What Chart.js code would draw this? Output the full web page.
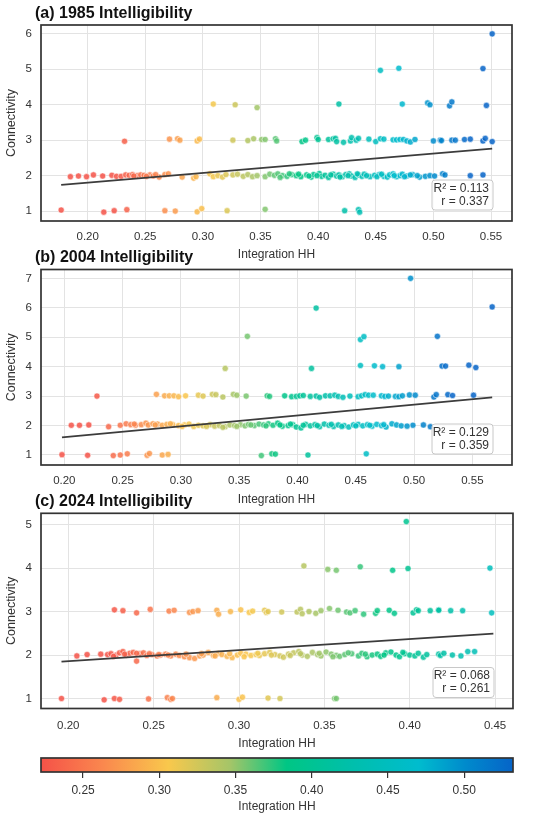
<!DOCTYPE html>
<html lang="en">
<head>
  <meta charset="UTF-8">
  <title>Integration HH vs Connectivity</title>
  <script src="https://cdn.jsdelivr.net/npm/chart.js@4.4.1/dist/chart.umd.min.js"></script>
  <style>
    body { margin: 0; background: #fff; }
    #wrap { position: relative; width: 550px; height: 820px; }
    #wrap canvas { position: absolute; left: 0; }
  </style>
</head>
<body>
<div id="wrap">
  <canvas id="chartA" width="550" height="262" style="top:0px"></canvas>
  <canvas id="chartB" width="550" height="262" style="top:245px"></canvas>
  <canvas id="chartC" width="550" height="262" style="top:489px"></canvas>
  <canvas id="colorbar" width="550" height="75" style="top:745px"></canvas>
</div>
<script>
// ---- data ----
// (a) 1985
const integA = [
  0.177, 0.214, 0.223, 0.234, 0.267, 0.276, 0.295, 0.299, 0.321, 0.354, 0.423, 0.435, 0.436,
  0.185, 0.192, 0.199, 0.205, 0.213, 0.221, 0.225, 0.229, 0.233, 0.236,
  0.239, 0.243, 0.246, 0.249, 0.254, 0.257, 0.262, 0.267, 0.270, 0.282,
  0.292, 0.294, 0.306, 0.309, 0.313, 0.317, 0.320, 0.326, 0.330, 0.335,
  0.339, 0.343, 0.347, 0.354, 0.358, 0.362, 0.365, 0.369, 0.373, 0.377,
  0.381, 0.385, 0.390, 0.394, 0.396, 0.401, 0.403, 0.406, 0.409, 0.413,
  0.416, 0.418, 0.421, 0.424, 0.427, 0.429, 0.432, 0.435, 0.438, 0.440,
  0.445, 0.449, 0.453, 0.457, 0.460, 0.462, 0.465, 0.468, 0.471, 0.473,
  0.477, 0.482, 0.488, 0.493, 0.497, 0.501, 0.508, 0.510, 0.532, 0.543,
  0.240, 0.251, 0.259, 0.367, 0.375, 0.383, 0.392, 0.399, 0.411, 0.419,
  0.426, 0.434, 0.442, 0.451, 0.455, 0.466, 0.475, 0.480, 0.486,
  0.232, 0.271, 0.278, 0.280, 0.295, 0.297, 0.326, 0.339, 0.344, 0.351,
  0.354, 0.363, 0.364, 0.386, 0.389, 0.399, 0.400, 0.409, 0.413, 0.415,
  0.416, 0.422, 0.428, 0.429, 0.433, 0.435, 0.444, 0.450, 0.454, 0.457,
  0.465, 0.468, 0.471, 0.474, 0.477, 0.480, 0.484, 0.500, 0.506, 0.507,
  0.516, 0.519, 0.527, 0.532, 0.543, 0.545, 0.551,
  0.309, 0.328, 0.347, 0.418, 0.473, 0.495, 0.497, 0.514, 0.516, 0.546,
  0.454, 0.470, 0.543, 0.551
];
const connA = [
  1.03, 0.97, 1.01, 1.04, 1.01, 1.00, 0.98, 1.07, 1.01, 1.05, 1.01, 1.04, 0.97,
  1.97, 1.99, 1.97, 2.02, 1.99, 2.01, 1.98, 1.98, 2.02, 2.01,
  2.03, 2.00, 2.02, 2.01, 2.02, 1.99, 1.96, 2.03, 2.05, 1.96,
  1.93, 1.97, 2.05, 1.97, 2.00, 1.96, 2.03, 2.02, 2.04, 1.98,
  2.03, 1.97, 2.00, 1.97, 2.04, 2.01, 2.05, 2.00, 1.98, 2.03,
  2.00, 1.97, 2.02, 1.96, 2.03, 2.06, 1.98, 2.01, 1.95, 2.04,
  1.99, 2.02, 1.97, 2.03, 2.05, 1.99, 1.95, 2.02, 1.98, 2.04,
  1.97, 2.01, 2.03, 1.98, 1.96, 2.02, 2.05, 1.97, 2.00, 2.04,
  1.99, 2.03, 1.96, 1.98, 2.00, 1.99, 2.05, 2.02, 2.00, 2.02,
  1.99, 1.98, 2.03, 1.95, 2.05, 2.04, 1.99, 2.00, 2.02, 1.96,
  2.00, 2.05, 2.00, 1.97, 2.04, 2.00, 1.97, 2.02, 2.00,
  2.97, 3.03, 3.04, 3.00, 2.98, 3.03, 3.00, 2.99, 3.04, 3.02,
  3.02, 3.04, 2.98, 2.96, 3.00, 3.07, 3.02, 3.02, 3.04, 3.05,
  2.96, 2.94, 2.98, 3.07, 3.00, 3.05, 3.03, 2.96, 3.04, 3.03,
  3.01, 3.01, 3.02, 3.02, 2.98, 2.95, 3.02, 2.98, 3.00, 2.99,
  3.00, 3.00, 3.02, 3.03, 2.98, 3.05, 2.96,
  4.02, 4.00, 3.92, 4.02, 4.02, 4.05, 4.00, 3.97, 4.08, 3.98,
  4.97, 5.03, 5.02, 6.00
];
const fitXA = [0.177, 0.551];
const fitYA = [1.74, 2.76];
const statsA = ['R\u00b2 = 0.113', 'r = 0.337'];

// (b) 2004
const integB = [
  0.198, 0.220, 0.242, 0.248, 0.254, 0.271, 0.273, 0.284, 0.289, 0.369, 0.378, 0.381, 0.409, 0.459,
  0.206, 0.213, 0.221, 0.238, 0.248, 0.253, 0.257, 0.261, 0.266, 0.270,
  0.272, 0.276, 0.280, 0.284, 0.288, 0.293, 0.298, 0.303, 0.307, 0.311,
  0.315, 0.319, 0.325, 0.329, 0.333, 0.338, 0.342, 0.346, 0.351, 0.355,
  0.358, 0.363, 0.367, 0.371, 0.375, 0.379, 0.383, 0.387, 0.392, 0.396,
  0.399, 0.403, 0.407, 0.411, 0.415, 0.419, 0.423, 0.427, 0.431, 0.435,
  0.440, 0.444, 0.448, 0.452, 0.456, 0.460, 0.464, 0.468, 0.472, 0.476,
  0.481, 0.485, 0.489, 0.499, 0.508, 0.514,
  0.260, 0.278, 0.291, 0.301, 0.322, 0.336, 0.348, 0.360, 0.373, 0.385,
  0.394, 0.405, 0.417, 0.429, 0.438, 0.450, 0.462, 0.474, 0.494,
  0.228, 0.279, 0.286, 0.290, 0.294, 0.298, 0.304, 0.315, 0.319, 0.327,
  0.330, 0.336, 0.345, 0.348, 0.356, 0.374, 0.376, 0.389, 0.395, 0.399,
  0.402, 0.405, 0.411, 0.416, 0.419, 0.424, 0.428, 0.432, 0.435, 0.439,
  0.445, 0.452, 0.455, 0.458, 0.461, 0.465, 0.472, 0.475, 0.478, 0.484,
  0.487, 0.490, 0.496, 0.501, 0.517, 0.519, 0.529, 0.533, 0.551,
  0.338, 0.412, 0.454, 0.466, 0.473, 0.487, 0.524, 0.527, 0.547, 0.553,
  0.357, 0.454, 0.457, 0.520, 0.416, 0.567, 0.497
];
const connB = [
  1.01, 0.99, 0.98, 1.00, 1.04, 0.99, 1.05, 1.00, 1.02, 0.98, 1.04, 1.03, 1.00, 1.04,
  2.01, 2.01, 2.02, 1.96, 2.01, 2.06, 2.03, 2.01, 2.03, 2.08,
  2.02, 2.06, 2.05, 2.01, 2.04, 2.03, 2.00, 2.02, 2.05, 1.97,
  2.01, 1.99, 2.03, 1.98, 2.00, 1.96, 2.02, 2.00, 2.03, 1.99,
  2.04, 2.00, 2.05, 2.02, 2.06, 2.01, 2.08, 1.98, 2.00, 2.03,
  1.95, 1.92, 2.04, 1.99, 2.03, 1.96, 2.05, 2.01, 1.97, 2.02,
  2.00, 1.95, 2.02, 2.04, 1.99, 2.03, 1.98, 2.04, 2.00, 1.95,
  2.06, 2.02, 1.99, 2.01, 2.02, 1.96,
  2.05, 2.02, 2.06, 1.97, 1.97, 1.94, 1.97, 2.02, 1.99, 2.02,
  2.05, 2.01, 2.00, 2.04, 1.97, 1.99, 2.01, 2.03, 1.98,
  3.00, 3.06, 3.01, 3.01, 3.01, 2.98, 3.01, 3.03, 3.00, 3.06,
  3.05, 2.97, 3.06, 3.03, 3.00, 3.01, 2.99, 3.01, 2.98, 2.99,
  3.01, 3.02, 2.99, 3.00, 2.96, 3.01, 3.01, 3.03, 2.99, 2.96,
  3.00, 2.98, 3.01, 3.05, 3.03, 3.03, 3.01, 2.99, 3.00, 2.99,
  2.98, 3.01, 3.04, 3.03, 2.97, 3.05, 3.05, 3.02, 3.03,
  3.94, 3.94, 4.04, 4.03, 4.00, 4.00, 4.02, 4.02, 4.05, 3.97,
  5.03, 4.92, 5.02, 5.03, 5.99, 6.03, 7.00
];
const fitXB = [0.198, 0.567];
const fitYB = [1.60, 2.96];
const statsB = ['R\u00b2 = 0.129', 'r = 0.359'];

// (c) 2024
const integC = [
  0.196, 0.221, 0.227, 0.230, 0.247, 0.258, 0.260, 0.261, 0.287, 0.300, 0.302, 0.317, 0.324, 0.356, 0.357,
  0.205, 0.211, 0.219, 0.223, 0.225, 0.228, 0.230, 0.232, 0.234, 0.236,
  0.238, 0.240, 0.242, 0.244, 0.246, 0.249, 0.252, 0.254, 0.257, 0.260,
  0.263, 0.265, 0.268, 0.271, 0.274, 0.277, 0.279, 0.282, 0.285, 0.288,
  0.290, 0.293, 0.296, 0.299, 0.301, 0.304, 0.307, 0.310, 0.312, 0.315,
  0.318, 0.321, 0.324, 0.326, 0.329, 0.332, 0.335, 0.337, 0.340, 0.343,
  0.346, 0.348, 0.351, 0.354, 0.357, 0.359, 0.362, 0.366, 0.370, 0.372,
  0.375, 0.378, 0.381, 0.383, 0.386, 0.389, 0.392, 0.394, 0.397, 0.400,
  0.403, 0.405, 0.408, 0.417, 0.418, 0.425, 0.430, 0.434, 0.438,
  0.2265, 0.2330, 0.2400, 0.2475, 0.2530, 0.2585, 0.2690, 0.2780, 0.2860, 0.2945,
  0.3030, 0.3110, 0.3190, 0.3300, 0.3360, 0.3470, 0.3550, 0.3640, 0.3740, 0.3850,
  0.3960, 0.4100, 0.4200,
  0.227, 0.232, 0.240, 0.248, 0.259, 0.262, 0.271, 0.273, 0.276, 0.287,
  0.288, 0.295, 0.301, 0.306, 0.308, 0.315, 0.316, 0.317, 0.325, 0.334,
  0.336, 0.337, 0.341, 0.345, 0.348, 0.353, 0.358, 0.363, 0.365, 0.368,
  0.373, 0.380, 0.381, 0.388, 0.391, 0.402, 0.404, 0.405, 0.412, 0.417,
  0.417, 0.424, 0.431, 0.448,
  0.338, 0.352, 0.357, 0.371, 0.390, 0.399, 0.447,
  0.398
];
const connC = [
  1.00, 0.97, 1.00, 0.98, 0.99, 1.02, 0.98, 1.00, 1.02, 0.98, 1.03, 1.01, 1.00, 1.00, 1.00,
  1.98, 2.01, 2.02, 2.01, 2.03, 2.00, 2.05, 2.08, 2.00, 2.04,
  2.06, 1.86, 2.03, 2.05, 1.99, 2.01, 1.98, 2.00, 2.02, 1.98,
  2.02, 1.99, 1.96, 1.94, 1.92, 1.98, 2.00, 2.06, 1.99, 2.04,
  2.01, 1.97, 1.94, 2.00, 2.04, 2.02, 1.99, 2.01, 1.99, 2.03,
  2.06, 2.01, 1.98, 1.95, 2.02, 2.05, 2.08, 2.00, 1.97, 2.06,
  2.01, 1.98, 2.07, 2.02, 1.99, 1.97, 2.01, 2.03, 1.98, 2.04,
  1.96, 2.00, 2.02, 1.97, 2.05, 2.07, 2.00, 1.96, 2.03, 2.00,
  1.98, 2.04, 1.95, 2.02, 1.99, 2.00, 1.98, 2.08, 2.08,
  1.97, 2.02, 2.04, 2.03, 2.01, 2.00, 2.02, 2.03, 1.98, 2.03,
  1.96, 2.04, 2.00, 1.99, 2.03, 2.04, 1.96, 2.05, 2.02, 2.00,
  2.06, 2.01, 2.04,
  3.04, 3.02, 2.97, 3.05, 3.01, 3.03, 2.98, 3.00, 3.02, 3.03,
  2.94, 3.00, 3.04, 2.98, 3.01, 3.03, 2.98, 3.00, 2.99, 2.99,
  3.05, 2.95, 3.00, 2.96, 3.02, 3.07, 3.03, 2.99, 2.97, 3.02,
  2.94, 2.96, 3.02, 3.03, 2.96, 2.97, 3.04, 3.02, 3.02, 3.04,
  3.03, 3.02, 3.02, 2.97,
  4.05, 3.97, 3.95, 4.03, 3.95, 3.99, 4.00,
  5.07
];
const fitXC = [0.196, 0.449];
const fitYC = [1.85, 2.49];
const statsC = ['R\u00b2 = 0.068', 'r = 0.261'];

// axis ticks
const xTicksAB = [0.20, 0.25, 0.30, 0.35, 0.40, 0.45, 0.50, 0.55];
const xTicksC = [0.20, 0.25, 0.30, 0.35, 0.40, 0.45];
const yTicksA = [1, 2, 3, 4, 5, 6];
const yTicksB = [1, 2, 3, 4, 5, 6, 7];
const yTicksC = [1, 2, 3, 4, 5];
const cbarTicks = [0.25, 0.30, 0.35, 0.40, 0.45, 0.50];

// shared colour scale
const cbarMin = 0.2224, cbarMax = 0.532;
const cmapStops = [0, 0.13, 0.27, 0.40, 0.52, 0.66, 0.80, 0.90, 1];
const cmapColors = [
  [245, 82, 72], [250, 135, 78], [249, 200, 76], [165, 197, 104], [0, 198, 132],
  [0, 191, 172], [0, 188, 206], [0, 138, 204], [6, 100, 200]
];

const FONT = '"Liberation Sans", Arial, sans-serif';
Chart.defaults.font.family = FONT;
Chart.defaults.color = '#333';

function cmap(v, alpha) {
  let t = (v - cbarMin) / (cbarMax - cbarMin);
  t = Math.max(0, Math.min(1, t));
  let i = 0;
  while (i < cmapStops.length - 2 && t > cmapStops[i + 1]) i++;
  const f = (t - cmapStops[i]) / (cmapStops[i + 1] - cmapStops[i]);
  const c = cmapColors[i].map((c0, k) => Math.round(c0 + (cmapColors[i + 1][k] - c0) * f));
  return `rgba(${c[0]},${c[1]},${c[2]},${alpha})`;
}

// title, stats box and dark frame round the plot area
const framePlugin = {
  id: 'frame',
  afterDraw(chart, args, opts) {
    const { ctx, chartArea: a } = chart;
    ctx.save();
    if (opts.title) {
      ctx.font = 'bold 16px ' + FONT;
      ctx.fillStyle = '#111';
      ctx.textAlign = 'left';
      ctx.textBaseline = 'alphabetic';
      ctx.fillText(opts.title, a.left - 6, a.top - 7.5);
    }
    if (opts.stats) {
      const bx = a.right - 80, by = a.bottom - 41, bw = 61, bh = 30;
      ctx.beginPath();
      ctx.roundRect(bx, by, bw, bh, 3);
      ctx.fillStyle = 'rgba(255,255,255,0.85)';
      ctx.fill();
      ctx.strokeStyle = '#c8c8c8';
      ctx.lineWidth = 1;
      ctx.stroke();
      ctx.font = '12px ' + FONT;
      ctx.fillStyle = '#333';
      ctx.textAlign = 'right';
      ctx.fillText(opts.stats[0], a.right - 23, a.bottom - 29.5);
      ctx.fillText(opts.stats[1], a.right - 23, a.bottom - 16.5);
    }
    ctx.strokeStyle = '#333';
    ctx.lineWidth = 1.7;
    ctx.strokeRect(a.left, a.top, a.right - a.left, a.bottom - a.top);
    ctx.restore();
  }
};

function makePanel(id, cfg) {
  const pts = cfg.xs.map((x, i) => ({ x: x, y: cfg.ys[i] }));
  const fit = cfg.fitX.map((x, i) => ({ x: x, y: cfg.fitY[i] }));
  return new Chart(document.getElementById(id), {
    type: 'scatter',
    data: {
      datasets: [
        {
          data: fit,
          type: 'line',
          showLine: true,
          borderColor: '#3c3c3c',
          borderWidth: 1.8,
          pointRadius: 0,
          order: 0
        },
        {
          data: pts,
          pointRadius: 3.1,
          pointBorderWidth: 0.6,
          pointBorderColor: 'rgba(255,255,255,0.9)',
          pointBackgroundColor: pts.map(p => cmap(p.x, 0.85)),
          order: 1
        }
      ]
    },
    options: {
      responsive: false,
      animation: false,
      layout: { padding: { top: cfg.padTop, right: cfg.padRight, left: 0, bottom: 0 } },
      plugins: {
        legend: { display: false },
        tooltip: { enabled: false },
        frame: { title: cfg.title, stats: cfg.stats }
      },
      scales: {
        x: {
          type: 'linear',
          min: cfg.xMin, max: cfg.xMax,
          afterBuildTicks: s => { s.ticks = cfg.xTicks.map(v => ({ value: v })); },
          afterFit: s => { s.height = cfg.xHeight; },
          ticks: { font: { size: 11.5 }, padding: cfg.xPad, callback: v => v.toFixed(2) },
          grid: { color: '#e3e3e3', drawTicks: false },
          border: { display: false },
          title: { display: true, text: 'Integration HH', font: { size: 12 }, color: '#333', padding: 0 }
        },
        y: {
          min: cfg.yMin, max: cfg.yMax,
          afterBuildTicks: s => { s.ticks = cfg.yTicks.map(v => ({ value: v })); },
          afterFit: s => { s.width = 41; },
          ticks: { font: { size: 11.5 }, padding: 9 },
          grid: { color: '#e3e3e3', drawTicks: false },
          border: { display: false },
          title: { display: true, text: 'Connectivity', font: { size: 12.5 }, color: '#333', padding: { top: 4, bottom: 0 } }
        }
      }
    },
    plugins: [framePlugin]
  });
}

makePanel('chartA', {
  title: '(a) 1985 Intelligibility', stats: statsA,
  xs: integA, ys: connA, fitX: fitXA, fitY: fitYA,
  xMin: 0.1595, xMax: 0.5682, yMin: 0.72, yMax: 6.25,
  xTicks: xTicksAB, yTicks: yTicksA,
  padTop: 25, padRight: 38, xHeight: 41, xPad: 9
});
makePanel('chartB', {
  title: '(b) 2004 Intelligibility', stats: statsB,
  xs: integB, ys: connB, fitX: fitXB, fitY: fitYB,
  xMin: 0.180, xMax: 0.584, yMin: 0.66, yMax: 7.30,
  xTicks: xTicksAB, yTicks: yTicksB,
  padTop: 24.5, padRight: 38, xHeight: 42, xPad: 9
});
makePanel('chartC', {
  title: '(c) 2024 Intelligibility', stats: statsC,
  xs: integC, ys: connC, fitX: fitXC, fitY: fitYC,
  xMin: 0.184, xMax: 0.4605, yMin: 0.77, yMax: 5.26,
  xTicks: xTicksC, yTicks: yTicksC,
  padTop: 24.3, padRight: 37, xHeight: 42.5, xPad: 10
});

// colour bar: gradient laid along the x scale
const gradientPlugin = {
  id: 'gradientBar',
  beforeDatasetsDraw(chart) {
    const { ctx, chartArea: a, scales } = chart;
    const x0 = scales.x.getPixelForValue(cbarMin);
    const x1 = scales.x.getPixelForValue(cbarMax);
    const g = ctx.createLinearGradient(x0, 0, x1, 0);
    cmapStops.forEach((s, i) => {
      const c = cmapColors[i];
      g.addColorStop(s, `rgb(${c[0]},${c[1]},${c[2]})`);
    });
    ctx.save();
    ctx.fillStyle = g;
    ctx.fillRect(a.left, a.top, a.right - a.left, a.bottom - a.top);
    ctx.strokeStyle = '#333';
    ctx.lineWidth = 1.7;
    ctx.strokeRect(a.left, a.top, a.right - a.left, a.bottom - a.top);
    ctx.restore();
  }
};

new Chart(document.getElementById('colorbar'), {
  type: 'scatter',
  data: { datasets: [] },
  options: {
    responsive: false,
    animation: false,
    layout: { padding: { top: 13, right: 37, left: 41, bottom: 0 } },
    plugins: { legend: { display: false }, tooltip: { enabled: false } },
    scales: {
      x: {
        type: 'linear',
        min: cbarMin, max: cbarMax,
        afterBuildTicks: s => { s.ticks = cbarTicks.map(v => ({ value: v })); },
        afterFit: s => { s.height = 48; },
        ticks: { font: { size: 12 }, padding: 5, callback: v => v.toFixed(2) },
        grid: { drawOnChartArea: false, drawTicks: true, tickLength: 6, color: '#333', lineWidth: 1.2 },
        border: { display: false },
        title: { display: true, text: 'Integration HH', font: { size: 12 }, color: '#333', padding: { top: 0, bottom: 6 } }
      },
      y: { display: false, min: 0, max: 1 }
    }
  },
  plugins: [gradientPlugin]
});
</script>
</body>
</html>
